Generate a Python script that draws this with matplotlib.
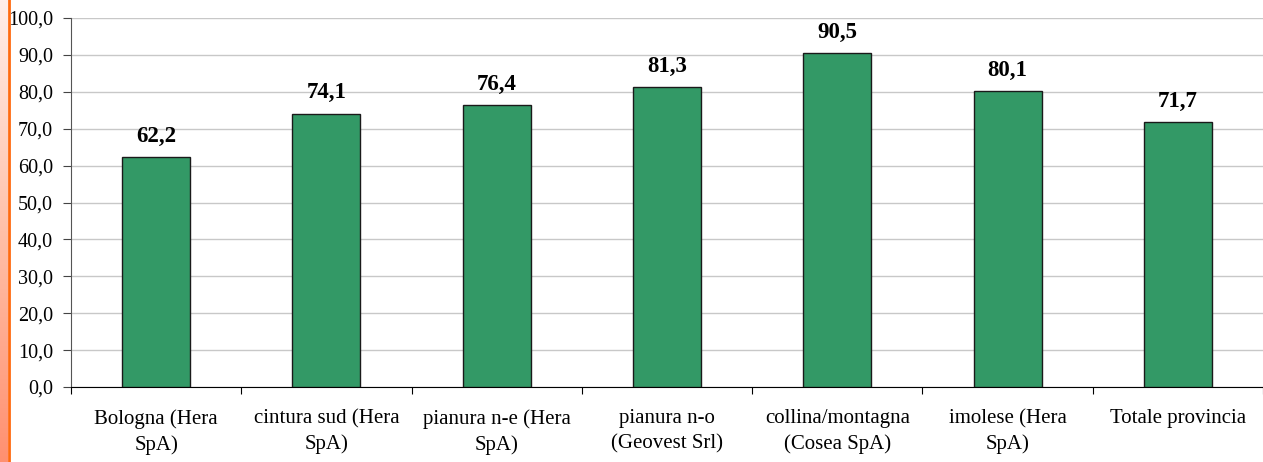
import numpy as np
import matplotlib.pyplot as plt
from matplotlib.ticker import FuncFormatter
from matplotlib.colors import LinearSegmentedColormap

categories = ["Bologna (Hera\nSpA)", "cintura sud (Hera\nSpA)", "pianura n-e (Hera\nSpA)",
              "pianura n-o\n(Geovest Srl)", "collina/montagna\n(Cosea SpA)", "imolese (Hera\nSpA)",
              "Totale provincia"]
values = [62.2, 74.1, 76.4, 81.3, 90.5, 80.1, 71.7]

plt.rcParams['font.family'] = ['Liberation Serif', 'DejaVu Serif']

W, H = 1263, 462
fig = plt.figure(figsize=(W / 100, H / 100), dpi=100)

# orange gradient strip on the left edge (slide background)
strip = fig.add_axes([0, 0, 8 / W, 1])
grad = np.linspace(0, 1, 256).reshape(-1, 1)
cmap = LinearSegmentedColormap.from_list("s", ["#ffeeea", "#ffc0a8", "#ff9070"])
strip.imshow(grad, aspect='auto', cmap=cmap, extent=[0, 1, 0, 1], origin='upper')
strip.axis('off')
fig.add_artist(plt.Line2D([8.5 / W, 8.5 / W], [0, 1], color='#ff6a10', lw=2))

ax = fig.add_axes([71 / W, 1 - 387 / H, 1 - 71 / W, (387 - 18) / H])
x = np.arange(len(categories))
ax.bar(x, values, width=0.4, color='#339966', edgecolor='#1a1a1a', linewidth=1, zorder=3)

for xi, v in zip(x, values):
    ax.annotate(f"{v:.1f}".replace('.', ','), (xi, v), xytext=(0, 11), textcoords='offset points',
                ha='center', va='baseline', fontsize=16.5, fontweight='bold')

ax.set_xlim(-0.5, len(categories) - 0.5)
ax.set_ylim(0, 100)
ax.set_yticks(np.arange(0, 101, 10))
ax.yaxis.set_major_formatter(FuncFormatter(lambda v, p: f"{v:.1f}".replace('.', ',')))
ax.grid(axis='y', color='#c8c8c8', lw=1, zorder=0)

ax.set_xticks(np.arange(len(categories) + 1) - 0.5, minor=False)
ax.set_xticklabels([])
ax.set_xticks(x, minor=True)
ax.set_xticklabels(categories, minor=True, fontsize=15, linespacing=1.4)
ax.tick_params(axis='x', which='major', length=5, direction='out', color='black')
ax.tick_params(axis='x', which='minor', length=0, pad=16)
ax.tick_params(axis='y', length=6, labelsize=14.5, pad=7, color='#444444')

for s in ['top', 'right']:
    ax.spines[s].set_visible(False)
ax.spines['left'].set_color('#555555')
ax.spines['bottom'].set_color('black')

fig.savefig('out.png', dpi=100)
